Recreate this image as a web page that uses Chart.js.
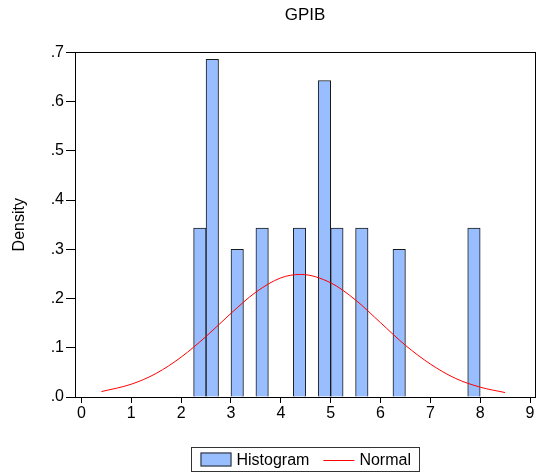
<!DOCTYPE html>
<html>
<head>
<meta charset="utf-8">
<script src="https://cdn.jsdelivr.net/npm/chart.js@4/dist/chart.umd.min.js"></script>
<style>
  html, body { margin: 0; padding: 0; background: #fff; }
  #wrap { width: 542px; height: 475px; }
</style>
</head>
<body>
<div id="wrap"><canvas id="histChart" width="542" height="475"></canvas></div>
<script>
// histogram bins (centres, width 0.25) and densities
const binCenters = [2.375, 2.625, 2.875, 3.125, 3.375, 3.625, 3.875, 4.125, 4.375, 4.625,
  4.875, 5.125, 5.375, 5.625, 5.875, 6.125, 6.375, 6.625, 6.875, 7.125, 7.375, 7.625, 7.875];
const densities = [0.343, 0.686, 0, 0.300, 0, 0.343, 0, 0, 0.343, 0,
  0.643, 0.343, 0, 0.343, 0, 0, 0.300, 0, 0, 0, 0, 0, 0.343];

// normal density curve
const normalX = [0.4, 1.0, 1.5, 2.0, 2.5, 3.0, 3.5, 4.0, 4.4, 5.0, 5.5, 6.0, 6.5, 7.0, 7.5, 8.0, 8.5];
const normalY = [0.011, 0.026, 0.048, 0.081, 0.123, 0.170, 0.213, 0.242, 0.249, 0.232, 0.197, 0.151, 0.105, 0.067, 0.038, 0.020, 0.009];

const xTicks = [0, 1, 2, 3, 4, 5, 6, 7, 8, 9];
const yTicks = [0, 0.1, 0.2, 0.3, 0.4, 0.5, 0.6, 0.7];
const yTickLabels = [".0", ".1", ".2", ".3", ".4", ".5", ".6", ".7"];

const FONT = "'Liberation Sans', Arial, sans-serif";

/** frame round the plot + boxed legend underneath */
const framePlugin = {
  id: "frame",
  afterDraw(chart) {
    const { ctx, chartArea: a } = chart;
    ctx.save();
    ctx.strokeStyle = "#000";
    ctx.lineWidth = 1;
    ctx.strokeRect(Math.round(a.left) + 0.5, Math.round(a.top) + 0.5,
      Math.round(a.right - a.left), Math.round(a.bottom - a.top));

    // legend, histogram first
    const ds = chart.data.datasets.slice().sort((p, q) => q.order - p.order);
    ctx.font = "16px " + FONT;
    ctx.textBaseline = "middle";
    const swatch = 31, gap = 5, spacing = 14, padX = 9;
    const items = ds.map(d => ({ d, w: swatch + gap + ctx.measureText(d.label).width }));
    const total = items.reduce((s, it) => s + it.w, 0) + spacing * (items.length - 1) + padX * 2;
    const cx = (a.left + a.right) / 2;
    const boxTop = 447.5, boxH = 24;
    let x = Math.round(cx - total / 2) + 0.5;
    ctx.strokeStyle = "#333";
    ctx.strokeRect(x, boxTop, Math.round(total), boxH);
    const cy = boxTop + boxH / 2;
    x += padX;
    items.forEach(it => {
      if (it.d.type === "line") {
        ctx.strokeStyle = it.d.borderColor;
        ctx.beginPath();
        ctx.moveTo(x, Math.round(cy) + 0.5);
        ctx.lineTo(x + swatch, Math.round(cy) + 0.5);
        ctx.stroke();
      } else {
        ctx.fillStyle = it.d.backgroundColor;
        ctx.fillRect(x, cy - 7, swatch, 14);
        ctx.strokeStyle = "#222";
        ctx.strokeRect(x + 0.5, cy - 6.5, swatch - 1, 13);
      }
      ctx.fillStyle = "#000";
      ctx.fillText(it.d.label, x + swatch + gap, cy + 1);
      x += it.w + spacing;
    });
    ctx.restore();
  }
};

const ctx = document.getElementById("histChart").getContext("2d");
new Chart(ctx, {
  type: "bar",
  data: {
    datasets: [
      {
        type: "line",
        label: "Normal",
        data: normalX.map((x, i) => ({ x, y: normalY[i] })),
        borderColor: "#ff0000",
        borderWidth: 1,
        pointRadius: 0,
        cubicInterpolationMode: "monotone",
        order: 0
      },
      {
        type: "bar",
        label: "Histogram",
        data: binCenters.map((x, i) => ({ x, y: densities[i] })),
        backgroundColor: "rgb(153,190,255)",
        borderColor: "#1a1a1a",
        borderWidth: 1,
        barPercentage: 1,
        categoryPercentage: 1,
        order: 1
      }
    ]
  },
  options: {
    responsive: false,
    animation: false,
    layout: { padding: { left: 0, right: 7, top: 0, bottom: 48 } },
    plugins: {
      legend: { display: false },
      tooltip: { enabled: false },
      title: {
        display: true,
        fullSize: false,
        text: "GPIB",
        color: "#000",
        font: { family: FONT, size: 17, weight: "normal" },
        padding: { top: 5, bottom: 27 }
      }
    },
    scales: {
      x: {
        type: "linear",
        offset: false,
        min: -0.13,
        max: 9.1,
        afterBuildTicks: s => { s.ticks = xTicks.map(v => ({ value: v })); },
        afterFit: s => { s.height = 30; },
        grid: { drawOnChartArea: false, offset: false, tickLength: 6, color: "#000" },
        border: { color: "#000" },
        ticks: { color: "#000", padding: 1, maxRotation: 0, font: { family: FONT, size: 16 } }
      },
      y: {
        min: 0,
        max: 0.7,
        afterBuildTicks: s => { s.ticks = yTicks.map(v => ({ value: v })); },
        afterFit: s => { s.width = 75; },
        grid: { drawOnChartArea: false, tickLength: 9, color: "#000" },
        border: { color: "#000" },
        ticks: {
          color: "#000",
          padding: 2,
          font: { family: FONT, size: 16 },
          callback: v => yTickLabels[yTicks.findIndex(t => Math.abs(t - v) < 1e-9)]
        },
        title: {
          display: true,
          text: "Density",
          color: "#000",
          font: { family: FONT, size: 16 },
          padding: { top: 10, bottom: 0 }
        }
      }
    }
  },
  plugins: [framePlugin]
});
</script>
</body>
</html>
